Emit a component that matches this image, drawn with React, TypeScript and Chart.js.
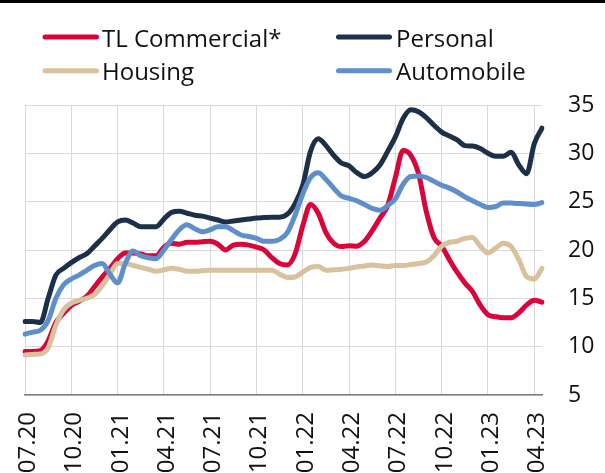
import React, { useEffect, useRef } from "react";
import { Chart, registerables } from "chart.js";

Chart.register(...registerables);

// Months on the x axis (two observations per month)
const months = [
  "07.20", "08.20", "09.20", "10.20", "11.20", "12.20",
  "01.21", "02.21", "03.21", "04.21", "05.21", "06.21",
  "07.21", "08.21", "09.21", "10.21", "11.21", "12.21",
  "01.22", "02.22", "03.22", "04.22", "05.22", "06.22",
  "07.22", "08.22", "09.22", "10.22", "11.22", "12.22",
  "01.23", "02.23", "03.23", "04.23",
];

const tickLabels = [
  "07.20", "10.20", "01.21", "04.21", "07.21", "10.21",
  "01.22", "04.22", "07.22", "10.22", "01.23", "04.23",
];

const tlCommercial = [
  9.5, 9.5, 9.6, 10.6, 12.5, 13.45, 14.25, 14.7, 15.2, 16.2,
  17.2, 18.1, 19.1, 19.7, 19.7, 19.6, 19.4, 19.4, 20.3, 20.7,
  20.6, 20.8, 20.8, 20.85, 20.9, 20.6, 20.0, 20.5, 20.6, 20.5,
  20.3, 20.0, 19.2, 18.6, 18.45, 19.6, 22.5, 24.7, 23.8, 21.8,
  20.7, 20.35, 20.45, 20.4, 20.9, 22.0, 23.3, 24.6, 27.5, 30.3,
  29.8, 27.9, 24.0, 21.3, 20.4, 19.0, 17.7, 16.6, 15.7, 14.3,
  13.3, 13.1, 13.0, 13.0, 13.5, 14.3, 14.8, 14.6,
];

const personal = [
  12.6, 12.6, 12.5, 15.0, 17.4, 18.1, 18.7, 19.2, 19.6, 20.4,
  21.2, 22.1, 22.9, 23.1, 22.8, 22.4, 22.4, 22.4, 23.2, 23.9,
  24.0, 23.8, 23.6, 23.5, 23.3, 23.1, 22.9, 23.0, 23.1, 23.2,
  23.3, 23.35, 23.4, 23.4, 23.7, 24.8, 26.7, 30.2, 31.5, 30.8,
  29.8, 29.0, 28.7, 28.0, 27.6, 28.0, 28.8, 30.2, 31.7, 33.6,
  34.5, 34.3, 33.7, 32.9, 32.2, 31.8, 31.4, 30.8, 30.75, 30.5,
  30.0, 29.7, 29.7, 30.1, 28.8, 27.9, 31.0, 32.6,
];

const housing = [
  9.15, 9.2, 9.25, 9.9, 12.2, 13.8, 14.5, 14.8, 15.0, 15.4,
  16.3, 17.5, 18.6, 18.6, 18.4, 18.2, 18.0, 17.8, 17.95, 18.1,
  18.0, 17.8, 17.8, 17.85, 17.9, 17.9, 17.9, 17.9, 17.9, 17.9,
  17.9, 17.9, 17.9, 17.5, 17.15, 17.2, 17.7, 18.2, 18.3, 17.9,
  17.95, 18.0, 18.1, 18.25, 18.35, 18.45, 18.35, 18.3, 18.4, 18.4,
  18.5, 18.6, 18.75, 19.4, 20.4, 20.8, 20.9, 21.2, 21.3, 20.4,
  19.7, 20.2, 20.7, 20.35, 19.0, 17.25, 17.0, 18.1,
];

const automobile = [
  11.3, 11.5, 11.7, 12.7, 15.0, 16.4, 17.0, 17.4, 17.9, 18.4,
  18.6, 17.5, 16.6, 18.6, 19.9, 19.4, 19.2, 19.1, 20.0, 21.1,
  22.1, 22.6, 22.2, 21.9, 22.1, 22.4, 22.4, 22.0, 21.55, 21.4,
  21.2, 20.9, 20.9, 21.1, 21.8, 23.6, 25.8, 27.5, 28.0, 27.3,
  26.4, 25.6, 25.35, 25.1, 24.7, 24.3, 24.1, 24.6, 25.3, 26.8,
  27.6, 27.65, 27.5, 27.1, 26.7, 26.4, 26.0, 25.5, 25.1, 24.7,
  24.4, 24.5, 24.85, 24.85, 24.8, 24.75, 24.7, 24.9,
];

const seriesNames = ["TL Commercial*", "Personal", "Housing", "Automobile"];
const seriesColors = ["#d9043a", "#1c3149", "#d8c29e", "#5f8fcb"];

const FONT = "'Open Sans', 'Noto Sans', sans-serif";

const periods = months.flatMap((m) => [m + "/1", m + "/2"]);

function tickText(idx: number): string | null {
  const p = periods[idx];
  if (!p) return null;
  const [m, half] = p.split("/");
  if (half === "1" && tickLabels.includes(m)) return m;
  return null;
}

const legendPlugin = {
  id: "customLegend",
  afterDraw(chart: any) {
    const ctx = chart.ctx;
    ctx.save();
    // top black rule
    ctx.fillStyle = "#000";
    ctx.fillRect(0, 0, chart.width, 3);
    const cols = [
      { x1: 45, x2: 96.5, tx: 102 },
      { x1: 338.5, x2: 389.5, tx: 396 },
    ];
    const rows = [
      { y: 37, base: 46.5 },
      { y: 70.7, base: 80 },
    ];
    ctx.font = `24px ${FONT}`;
    seriesNames.forEach((name, i) => {
      const c = cols[i % 2];
      const r = rows[Math.floor(i / 2)];
      ctx.strokeStyle = seriesColors[i];
      ctx.lineWidth = 5;
      ctx.lineCap = "round";
      ctx.beginPath();
      ctx.moveTo(c.x1, r.y);
      ctx.lineTo(c.x2, r.y);
      ctx.stroke();
      ctx.fillStyle = "#111";
      ctx.textAlign = "left";
      ctx.textBaseline = "alphabetic";
      ctx.fillText(name, c.tx, r.base);
    });

    // rotated x-axis labels, placed from the scale's own tick positions
    const xs = chart.scales.x;
    const top = xs.top + 17;
    ctx.font = `24px ${FONT}`;
    ctx.fillStyle = "#111";
    ctx.textAlign = "right";
    ctx.textBaseline = "alphabetic";
    periods.forEach((_p, idx) => {
      const t = tickText(idx);
      if (!t) return;
      const px = xs.getPixelForValue(idx);
      ctx.save();
      ctx.translate(px + 10, top);
      ctx.rotate(-Math.PI / 2);
      ctx.fillText(t, 0, 0);
      ctx.restore();
    });
    ctx.restore();
  },
};

export default function App() {
  const ref = useRef<HTMLCanvasElement | null>(null);

  useEffect(() => {
    document.body.style.margin = "0";
    if (!ref.current) return;
    const values = [tlCommercial, personal, housing, automobile];
    // draw order: index 0 on top
    const drawOrder = [3, 2, 0, 1];
    const datasets = drawOrder.map((i) => ({
      label: seriesNames[i],
      data: values[i],
      borderColor: seriesColors[i],
      backgroundColor: seriesColors[i],
      borderWidth: 5,
      pointRadius: 0,
      pointHoverRadius: 0,
      tension: 0.35,
      cubicInterpolationMode: "monotone" as const,
      borderCapStyle: "round" as const,
      borderJoinStyle: "round" as const,
      fill: false,
    }));

    const chart = new Chart(ref.current, {
      type: "line",
      data: { labels: periods, datasets },
      options: {
        responsive: false,
        animation: false,
        devicePixelRatio: 1,
        layout: { padding: { top: 105, left: 25, right: 0, bottom: 0 } },
        plugins: {
          legend: { display: false },
          tooltip: { enabled: false },
        },
        scales: {
          x: {
            type: "category",
            offset: false,
            afterFit: (s: any) => {
              s.height = 78;
            },
            grid: {
              drawTicks: false,
              lineWidth: 1,
              color: (c: any) =>
                tickText(c.index) ? "#d9d9d9" : "rgba(0,0,0,0)",
            },
            border: { display: true, color: "#7f7f7f", width: 1.5 },
            ticks: {
              display: false,
              autoSkip: false,
              callback: (_v: any, idx: number) => tickText(idx) ?? "",
            },
          },
          y: {
            position: "right",
            min: 5,
            max: 35,
            afterFit: (s: any) => {
              s.width = 63;
            },
            grid: { drawTicks: false, color: "#d9d9d9", lineWidth: 1 },
            border: { display: false },
            ticks: {
              stepSize: 5,
              padding: 26,
              color: "#111",
              font: { family: FONT, size: 23 },
            },
          },
        },
      },
      plugins: [legendPlugin],
    });
    return () => chart.destroy();
  }, []);

  return (
    <div style={{ width: 605, height: 473, position: "relative", background: "#fff" }}>
      <canvas ref={ref} width={605} height={473} />
    </div>
  );
}
